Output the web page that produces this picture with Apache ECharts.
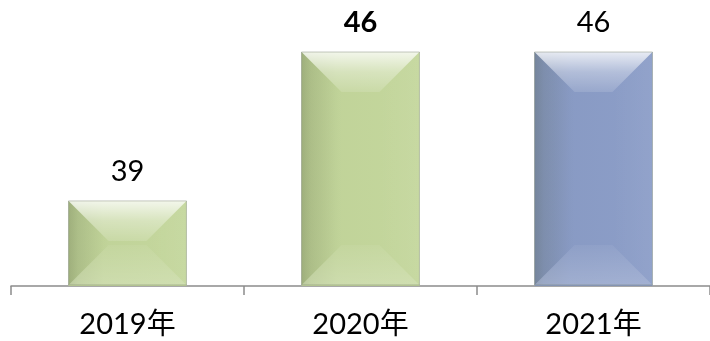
<!DOCTYPE html>
<html>
<head>
<meta charset="utf-8">
<style>
  html, body { margin: 0; padding: 0; background: #fff; }
  #chart { width: 710px; height: 341px; }
</style>
<script src="https://cdn.jsdelivr.net/npm/echarts@6/dist/echarts.min.js"></script>
</head>
<body>
<div id="chart"></div>
<script>
// Yearly values shown as bevelled bars
const categories = ['2019年', '2020年', '2021年'];
const values = [39, 46, 46];
const barColors = ['#c3d69b', '#c3d69b', '#8a9cc7'];
const boldLabel = [false, true, false];

const yMin = 35;
const yMax = 46;
const barRatio = 0.506;
const fontStack = 'Lato, "Noto Sans CJK SC", sans-serif';

const chart = echarts.init(document.getElementById('chart'));

// Facet overlays giving each bar its bevelled look
function renderBevel(params, api) {
  const idx = api.value(0);
  const val = api.value(1);
  const topPt = api.coord([idx, val]);
  const basePt = api.coord([idx, yMin]);
  const w = api.size([1, 0])[0] * barRatio;
  const x0 = topPt[0] - w / 2, x1 = topPt[0] + w / 2;
  const y0 = topPt[1], y1 = basePt[1] - 1;
  const d = Math.min(40, (y1 - y0) / 2, w / 2);
  const lin = (x, y, x2, y2, stops) => new echarts.graphic.LinearGradient(x, y, x2, y2,
    stops.map(([o, c]) => ({ offset: o, color: c })));
  return {
    type: 'group',
    children: [
      // soft horizontal shading across the full bar
      { type: 'rect', shape: { x: x0, y: y0, width: w, height: y1 - y0 },
        style: { fill: lin(0, 0, 1, 0, [[0, 'rgba(70,80,50,0.20)'], [0.08, 'rgba(70,80,50,0.10)'], [0.3, 'rgba(70,80,50,0.02)'], [1, 'rgba(255,255,255,0.02)']]) } },
      { type: 'polygon', shape: { points: [[x0, y1], [x1, y1], [x1 - d, y1 - d], [x0 + d, y1 - d]] },
        style: { fill: lin(0, 1, 0, 0, [[0, 'rgba(255,255,255,0.20)'], [1, 'rgba(255,255,255,0.05)']]) } },
      { type: 'polygon', shape: { points: [[x1, y0], [x1 - d, y0 + d], [x1 - d, y1 - d], [x1, y1]] },
        style: { fill: lin(1, 0, 0, 0, [[0, 'rgba(255,255,255,0.05)'], [1, 'rgba(255,255,255,0)']]) } },
      { type: 'polygon', shape: { points: [[x0, y0], [x0 + d, y0 + d], [x0 + d, y1 - d], [x0, y1]] },
        style: { fill: lin(0, 0, 1, 0, [[0, 'rgba(60,70,40,0.10)'], [1, 'rgba(60,70,40,0)']]) } },
      { type: 'polygon', shape: { points: [[x0, y0], [x1, y0], [x1 - d, y0 + d], [x0 + d, y0 + d]] },
        style: { fill: lin(0, 0, 0, 1, [[0, 'rgba(255,255,255,0.80)'], [0.5, 'rgba(255,255,255,0.35)'], [1, 'rgba(255,255,255,0.12)']]) } },
      { type: 'rect', shape: { x: x0, y: y0, width: w, height: y1 - y0 },
        style: { fill: 'none', stroke: 'rgba(110,120,100,0.4)', lineWidth: 1 } }
    ]
  };
}

chart.setOption({
  animation: false,
  grid: { left: 11, right: 0, top: 52, bottom: 55 },
  xAxis: {
    type: 'category',
    data: categories,
    boundaryGap: true,
    axisLine: { show: true, lineStyle: { color: '#8c8c8c', width: 1.5 } },
    axisTick: { show: true, length: 9, lineStyle: { color: '#8c8c8c', width: 1.5 } },
    axisLabel: { color: '#000', fontSize: 29, fontFamily: fontStack, margin: 24 }
  },
  yAxis: { type: 'value', min: yMin, max: yMax, show: false, splitLine: { show: false } },
  series: [
    {
      type: 'bar',
      barWidth: (barRatio * 100) + '%',
      data: values.map((v, i) => ({
        value: v,
        itemStyle: { color: barColors[i] },
        label: { fontWeight: boldLabel[i] ? 'bold' : 'normal' }
      })),
      label: { show: true, position: 'top', distance: 15, color: '#000', fontSize: 29, fontFamily: fontStack },
      z: 2
    },
    {
      type: 'custom',
      silent: true,
      renderItem: renderBevel,
      data: values.map((v, i) => [i, v]),
      z: 3
    }
  ]
});
</script>
</body>
</html>
